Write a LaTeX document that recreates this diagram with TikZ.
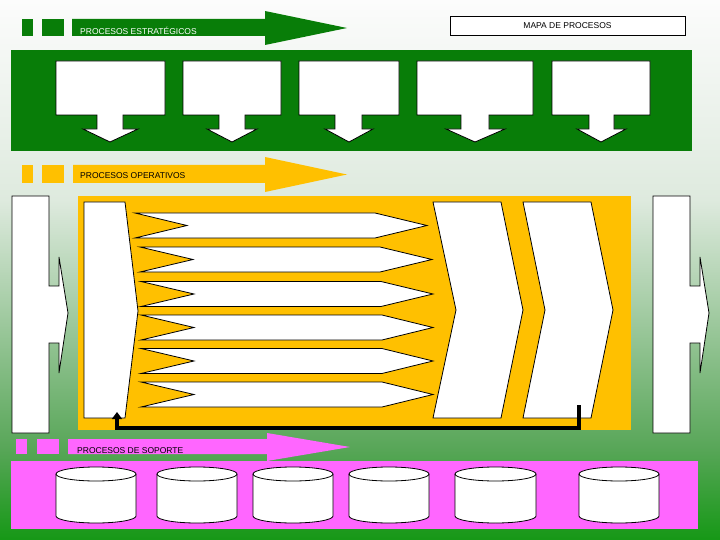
\documentclass[tikz,border=0pt]{standalone}
\usepackage{fontspec}
\setmainfont{Liberation Sans}
\usetikzlibrary{arrows.meta}
\definecolor{stgreen}{RGB}{8,125,8}
\definecolor{opyellow}{RGB}{255,192,0}
\definecolor{suppink}{RGB}{255,102,255}
\definecolor{bgA}{RGB}{22,152,22}
\definecolor{bgB}{RGB}{88,166,88}
\definecolor{bgC}{RGB}{168,206,168}
\definecolor{bgD}{RGB}{222,234,222}
\definecolor{bgE}{RGB}{252,252,252}
\pgfdeclareverticalshading{bgshade}{100bp}{color(0bp)=(bgA); color(25bp)=(bgA); color(33.5bp)=(bgB); color(47bp)=(bgC); color(56.5bp)=(bgD); color(75bp)=(bgE); color(100bp)=(bgE)}
\tikzset{
  outl/.style={draw=black, line width=0.8pt, fill=white, line join=miter},
  bandtext/.style={anchor=west, inner sep=0pt, font=\fontsize{8.5}{10}\selectfont},
  feedback/.style={draw=black, line width=3.5pt, -{Triangle[length=7pt,width=10pt]}}
}
\begin{document}
\begin{tikzpicture}[x=1pt,y=-1pt]
\useasboundingbox (0,0) rectangle (720,540);
\shade[shading=bgshade] (0,0) rectangle (720,540);

% ---------- strategic ----------
\fill[stgreen] (22,19) rectangle (33,36);
\fill[stgreen] (42,19) rectangle (64,36);
\fill[stgreen] (72,19) -- (265,19) -- (265,11) -- (347,28) -- (265,45) -- (265,36) -- (72,36) -- cycle;
\node[bandtext, text=white] (tstrat) at (80,31) {PROCESOS ESTRATÉGICOS};
\node[draw=black, line width=0.8pt, fill=white, minimum width=235pt, minimum height=19pt, inner sep=0pt,
      font=\fontsize{8.5}{10}\selectfont] (title) at (567.5,25.5) {MAPA DE PROCESOS};
\fill[stgreen] (11,50) rectangle (692,151);
\foreach \L/\R/\sL/\sR/\hL/\hR/\tp in {56/165/97/123/83/138/110, 183/281/219/245/207/257/232,
   299/399/335/362/325/373/349, 417/533/461/489/446/505/475, 552/650/589/614/577/626/601}{
  \draw[outl] (\L,61) -- (\R,61) -- (\R,115) -- (\sR,115) -- (\sR,129) -- (\hR,129) -- (\tp,142)
     -- (\hL,129) -- (\sL,129) -- (\sL,115) -- (\L,115) -- cycle;
}

% ---------- operative ----------
\fill[opyellow] (22,165) rectangle (33,183);
\fill[opyellow] (42,165) rectangle (64,183);
\fill[opyellow] (73,165) -- (265,165) -- (265,157) -- (347,174.5) -- (265,192) -- (265,183) -- (73,183) -- cycle;
\node[bandtext, text=black] (toper) at (80,176) {PROCESOS OPERATIVOS};
\fill[opyellow] (78,196) rectangle (631,430);

\draw[outl] (12,196) -- (49,196) -- (49,286) -- (59,286) -- (59,257) -- (68,313) -- (59,373)
  -- (59,343) -- (49,343) -- (49,433) -- (12,433) -- cycle;
\draw[outl] (653,196) -- (690,196) -- (690,286) -- (700,286) -- (700,257) -- (709,313) -- (700,373)
  -- (700,343) -- (690,343) -- (690,433) -- (653,433) -- cycle;

\draw[outl] (84,202) -- (125,202) -- (138,311) -- (125,418) -- (84,418) -- cycle;
\coordinate (fbB) at (117,412);

\foreach \t/\lx/\nx/\fx/\tx in {213/135/187/375/427, 247/140/193/380/432, 281.5/141/194/381/433,
   315/141/194/382/433, 348.5/141/194/382/433, 382/141/194/382/433}{
  \draw[outl] (\lx,\t) -- (\fx,\t) -- (\tx,\t+12.5) -- (\fx,\t+25) -- (\lx,\t+25) -- (\nx,\t+12.5) -- cycle;
}

\draw[outl] (433,202) -- (501,202) -- (523,310) -- (501,418) -- (433,418) -- (456,310) -- cycle;
\draw[outl] (523,202) -- (591,202) -- (613,310) -- (591,418) -- (523,418) -- (545,310) -- cycle;

\coordinate (fbA) at (579,405);
\coordinate (fbTurn) at (579,428);
\draw[feedback] (fbA) -- (fbTurn) -| (fbB);

% ---------- support ----------
\fill[suppink] (16,439) rectangle (27,454);
\fill[suppink] (37,439) rectangle (59,454);
\fill[suppink] (68,439) -- (267,439) -- (267,433) -- (350,447) -- (267,461) -- (267,454) -- (68,454) -- cycle;
\node[bandtext, text=black] (tsup) at (77,451) {PROCESOS DE SOPORTE};
\fill[suppink] (11,461) rectangle (698,529);
\foreach \a/\b in {56/136, 157/237, 253/333, 349/429, 455/536, 579/659}{
  \pgfmathsetmacro{\rx}{(\b-\a)/2}
  \draw[outl] (\a,474) -- (\a,516) arc[start angle=180, end angle=0, x radius=\rx, y radius=7]
     -- (\b,474) arc[start angle=0, end angle=-180, x radius=\rx, y radius=7] -- cycle;
  \draw[draw=black, line width=0.8pt] (\a,474) arc[start angle=180, end angle=0, x radius=\rx, y radius=7];
}
\end{tikzpicture}
\end{document}
